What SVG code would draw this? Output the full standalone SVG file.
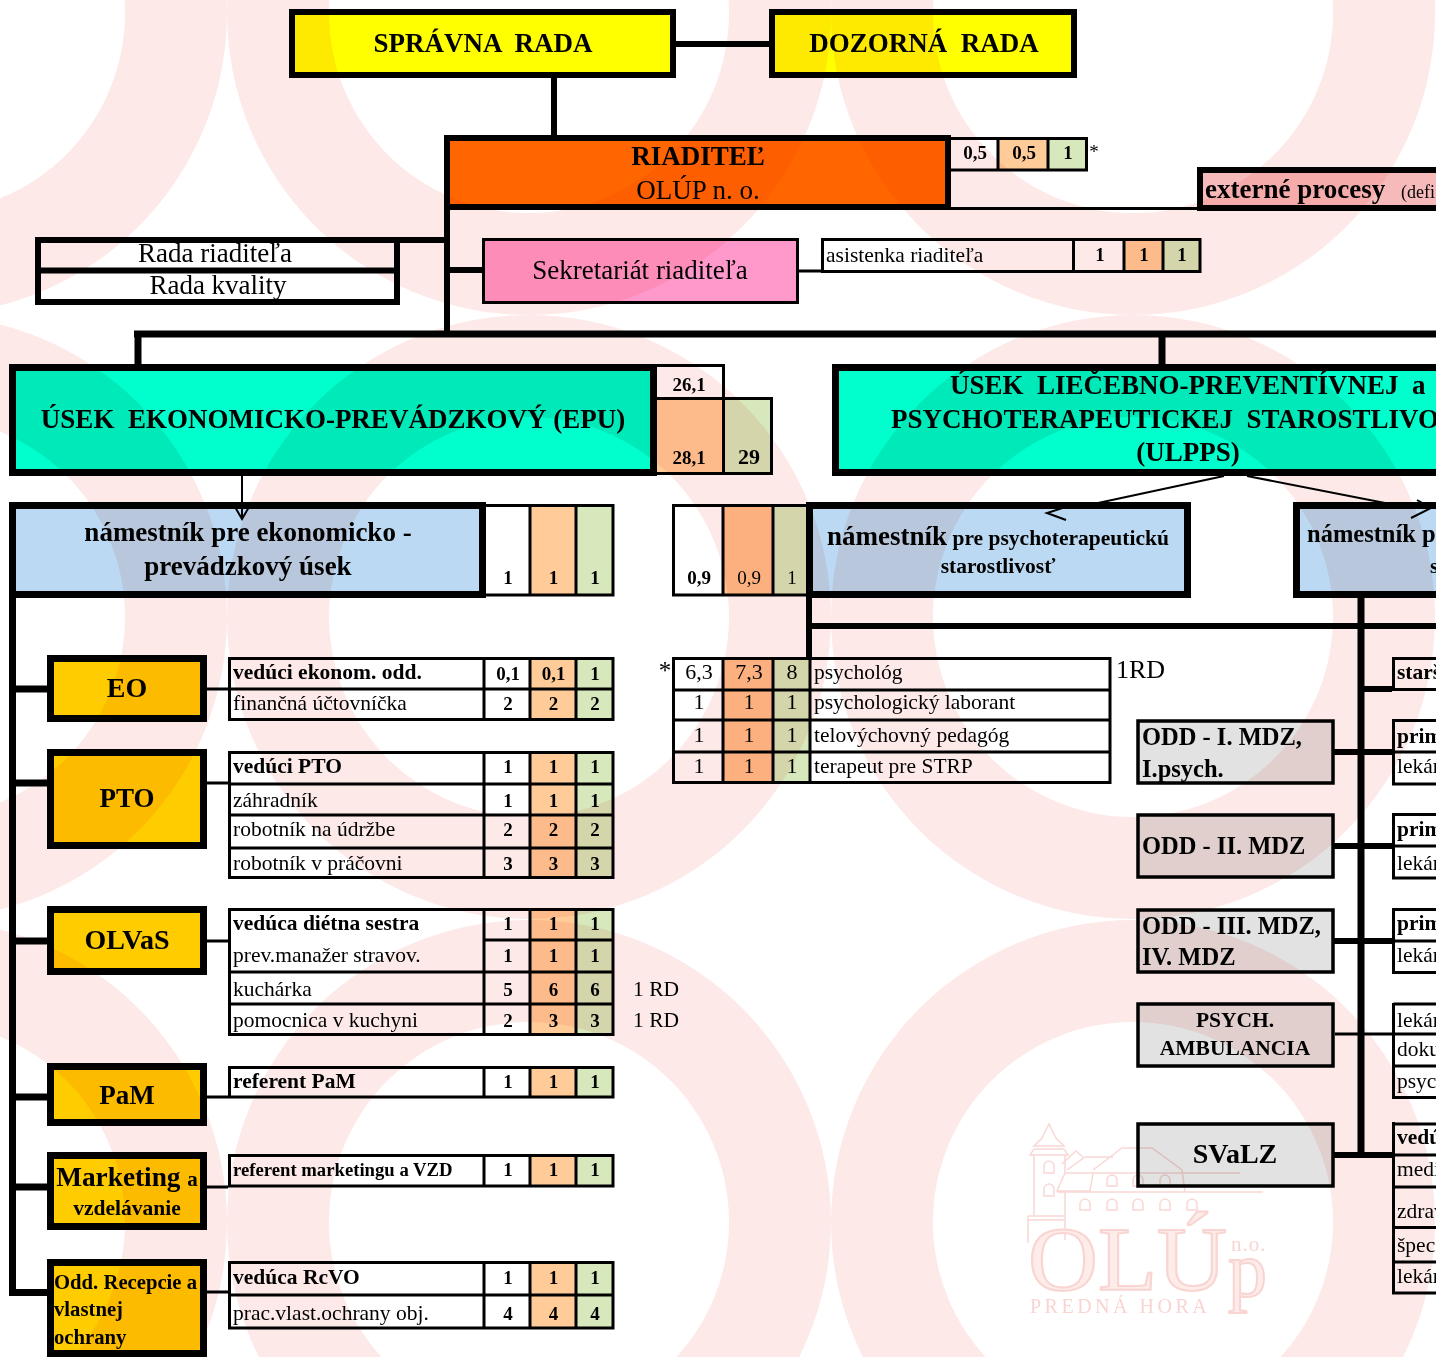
<svg xmlns="http://www.w3.org/2000/svg" width="1436" height="1357" viewBox="0 0 1436 1357">
<style>
text{font-family:"Liberation Serif","Times New Roman",serif;fill:#000;white-space:pre}
.b{font-weight:bold}
.m{text-anchor:middle}
.n{font-size:19px;font-weight:bold;text-anchor:middle}
.r{font-size:22px;text-anchor:middle}
.l{font-size:21.5px}
.lb{font-size:21.5px;font-weight:bold}
.big{font-size:28px;font-weight:bold;text-anchor:middle}
.odd{font-size:24.5px;font-weight:bold}
.h{font-size:27px;font-weight:bold;text-anchor:middle}
.t{fill:none;stroke:#000;stroke-width:3}
.k{fill:none;stroke:#000;stroke-width:6}
.kk{fill:none;stroke:#000;stroke-width:7}
.a{fill:none;stroke:#000;stroke-width:2}
.ws{fill:#fff}
.or{fill:#ffcc99}
.or2{fill:#ffc08c}
.gr{fill:#d6e8bc}
.go{fill:#ffcc00;stroke:#000;stroke-width:7}
.ye{fill:#ffff00;stroke:#000;stroke-width:6}
.tq{fill:#00ffcc;stroke:#000;stroke-width:7}
.bl{fill:#bbd9f2;stroke:#000;stroke-width:7}
.gy{fill:#e2e2e2;stroke:#000;stroke-width:3.5}
</style>
<rect width="1436" height="1357" fill="#fff"/>
<g id="connectors">
<path class="k" d="M676 44H769M554 78V136M447 210V335"/>
<path class="kk" d="M134 334H1436M138 334V365M1162 334V365"/>
<path class="t" d="M951 208.500H1197M799 271H822"/>
<path class="k" d="M400 240H447"/>
<path class="k" d="M447 270H482"/>
<path class="kk" d="M12.500 598V1292.500H50M13 689H50M13 783H50M13 941H50M13 1097H50M13 1187H50"/>
<path class="t" d="M207 689H228M207 783H228M207 941H228M207 1097H228M207 1187H228M207 1292H228"/>
<path class="k" d="M809 598V660M809 626H1436"/>
<path class="kk" d="M1361 598V1155"/>
<path class="k" d="M1361 689H1392M1332 752H1392M1332 846H1392M1332 941H1392M1332 1155H1392"/>
<path class="t" d="M1335 1034H1392"/>
</g>
<g id="spravna-rada"><rect class="ye" x="292" y="12" width="381" height="63"/><text class="h" x="483" y="52">SPRÁVNA  RADA</text></g>
<g id="dozorna-rada"><rect class="ye" x="772" y="12" width="302" height="63"/><text class="h" x="924" y="52">DOZORNÁ  RADA</text></g>
<g id="riaditel"><rect x="447" y="138" width="501" height="69" fill="#ff6600" stroke="#000" stroke-width="6"/>
<text class="h" x="698" y="165">RIADITEĽ</text><text x="698" y="199" class="m" style="font-size:27px">OLÚP n. o.</text></g>
<g id="riaditel-tab"><rect class="ws" x="951" y="138" width="47" height="32"/><rect class="or" x="998" y="138" width="50" height="32"/><rect class="gr" x="1048" y="138" width="39" height="32"/>
<path class="t" d="M951 138.500H1086.500V170H951M998 138V170M1048 138V170"/>
<text class="n" x="975" y="159">0,5</text><text class="n" x="1024" y="159">0,5</text><text class="n" x="1068" y="159">1</text><text x="1094" y="158" style="font-size:19px" class="m">*</text></g>
<g id="externe"><rect x="1200" y="170" width="240" height="38" fill="#f6baba" stroke="#000" stroke-width="6"/><text x="1205" y="198" class="b" style="font-size:27px">externé procesy</text><text x="1401" y="198" style="font-size:18px">(defi</text></g>
<g id="rada"><rect x="38" y="240" width="359" height="62" fill="#fff" stroke="#000" stroke-width="6"/><path class="k" d="M38 270.500H397"/>
<text x="215" y="262" class="m" style="font-size:27px">Rada riaditeľa</text><text x="218" y="294" class="m" style="font-size:27px">Rada kvality</text></g>
<g id="sekretariat"><rect x="483.500" y="239.500" width="314" height="63" fill="#ff99cc" stroke="#000" stroke-width="3"/><text x="640" y="279" class="m" style="font-size:27px">Sekretariát riaditeľa</text></g>
<g id="asistenka"><rect class="ws" x="822" y="239" width="379" height="33"/><rect class="or" x="1124" y="239" width="39" height="33"/><rect class="gr" x="1163" y="239" width="38" height="33"/>
<path class="t" d="M822.500 239.500H1200V271.500H822.500ZM1073.500 239V272M1124 239V272M1163 239V272"/><text class="l" x="826" y="262">asistenka riaditeľa</text>
<text class="n" x="1100" y="261">1</text><text class="n" x="1144" y="261">1</text><text class="n" x="1182" y="261">1</text></g>
<g id="epu"><rect class="tq" x="12.500" y="367.500" width="641" height="105"/><text class="h" x="333" y="428">ÚSEK  EKONOMICKO-PREVÁDZKOVÝ (EPU)</text></g>
<g id="epu-tab"><rect class="ws" x="657" y="366" width="67" height="32"/><rect class="or" x="657" y="398" width="67" height="75"/><rect class="gr" x="724" y="398" width="48" height="75"/>
<path class="t" d="M656 365.500H723.500V473M656 398.500H771.500V473.500H656"/><text class="n" x="689" y="391">26,1</text><text class="n" x="689" y="464">28,1</text><text class="n" x="749" y="464" style="font-size:22px">29</text></g>
<g id="namestnik-epu"><rect class="bl" x="12.500" y="505.500" width="470" height="89"/><text class="h" x="248" y="541">námestník pre ekonomicko -</text><text class="h" x="248" y="575">prevádzkový úsek</text></g>
<g id="namestnik-epu-tab"><rect class="or" x="530" y="505" width="46" height="90"/><rect class="gr" x="576" y="505" width="38" height="90"/><path class="t" d="M486 505.500H613V595H486M530 505V595M576 505V595"/>
<text class="n" x="508" y="584">1</text><text class="n" x="553.500" y="584">1</text><text class="n" x="595" y="584">1</text></g>
<g id="namestnik-psych-tab"><rect class="ws" x="673" y="505" width="50" height="90"/><rect class="or2" x="723" y="505" width="50" height="90"/><rect class="gr" x="773" y="505" width="35" height="90"/><path class="t" d="M808 505.500H673.500V595H808M723 505V595M773 505V595"/>
<text class="n" x="699" y="584">0,9</text><text class="m" x="749" y="584" style="font-size:19px">0,9</text><text class="m" x="792" y="584" style="font-size:19px">1</text></g>
<g id="namestnik-psych"><rect class="bl" x="809.500" y="505.500" width="378" height="89"/><text x="998" y="545" class="m b" style="font-size:21.500px"><tspan style="font-size:27px">námestník</tspan> pre psychoterapeutickú</text><text x="998" y="573" class="m b" style="font-size:21.500px">starostlivosť</text></g>
<g id="ulpps"><rect class="tq" x="835.500" y="367.500" width="610" height="105"/><text class="h" style="text-anchor:start" x="950" y="394">ÚSEK  LIEČEBNO-PREVENTÍVNEJ  a</text><text class="h" style="text-anchor:start" x="891" y="428">PSYCHOTERAPEUTICKEJ  STAROSTLIVO</text><text class="h" x="1188" y="461">(ULPPS)</text></g>
<g id="namestnik-ped"><rect class="bl" x="1296.500" y="505.500" width="150" height="89"/><text x="1307" y="542" class="b" style="font-size:24.500px">námestník p</text><text x="1430" y="573" class="b" style="font-size:21.500px">s</text></g>
<g id="arrows">
<path class="a" d="M242 476V518M235 507L242 519L249 507"/>
<path class="a" d="M1224 476L1098 503M1078 503L1047 513L1066 520"/>
<path class="a" d="M1247 476L1385 503M1417 500L1431 508L1411 518"/>
</g>
<g id="eo"><rect class="go" x="50.500" y="658.500" width="153" height="60"/><text class="big" x="127" y="697">EO</text></g>
<g id="eo-tab"><rect class="ws" x="229" y="658" width="385" height="62"/><rect class="or" x="530" y="658" width="46" height="62"/><rect class="gr" x="576" y="658" width="37" height="62"/>
<path class="t" d="M229.500 658.500H613V719.500H229.500ZM229 689H613M484 658V720M530 658V720M576 658V720"/>
<text class="lb" x="233" y="679">vedúci ekonom. odd.</text><text class="l" x="233" y="710">finančná účtovníčka</text>
<text class="n" x="508" y="680">0,1</text><text class="n" x="553.500" y="680">0,1</text><text class="n" x="595" y="680">1</text><text class="n" x="508" y="710">2</text><text class="n" x="553.500" y="710">2</text><text class="n" x="595" y="710">2</text></g>
<g id="pto"><rect class="go" x="50.500" y="752.500" width="153" height="93"/><text class="big" x="127" y="807" style="font-size:27px">PTO</text></g>
<g id="pto-tab"><rect class="ws" x="229" y="752" width="385" height="126"/><rect class="or" x="530" y="752" width="46" height="126"/><rect class="gr" x="576" y="752" width="37" height="126"/>
<path class="t" d="M229.500 752.500H613V877.500H229.500ZM229 784H613M229 815H613M229 848H613M484 752V878M530 752V878M576 752V878"/>
<text class="lb" x="233" y="773">vedúci PTO</text><text class="l" x="233" y="807">záhradník</text><text class="l" x="233" y="836">robotník na údržbe</text><text class="l" x="233" y="870">robotník v práčovni</text>
<text class="n" x="508" y="773">1</text><text class="n" x="553.500" y="773">1</text><text class="n" x="595" y="773">1</text><text class="n" x="508" y="807">1</text><text class="n" x="553.500" y="807">1</text><text class="n" x="595" y="807">1</text><text class="n" x="508" y="836">2</text><text class="n" x="553.500" y="836">2</text><text class="n" x="595" y="836">2</text><text class="n" x="508" y="870">3</text><text class="n" x="553.500" y="870">3</text><text class="n" x="595" y="870">3</text></g>
<g id="olvas"><rect class="go" x="50.500" y="909.500" width="153" height="62"/><text class="big" x="127" y="949">OLVaS</text></g>
<g id="olvas-tab"><rect class="ws" x="229" y="909" width="385" height="126"/><rect class="or" x="530" y="909" width="46" height="126"/><rect class="gr" x="576" y="909" width="37" height="126"/>
<path class="t" d="M229.500 909.500H613V1034.500H229.500ZM484 940H613M229 972H613M229 1004H613M484 909V1035M530 909V1035M576 909V1035"/>
<text class="lb" x="233" y="930">vedúca diétna sestra</text><text class="l" x="233" y="962">prev.manažer stravov.</text><text class="l" x="233" y="996">kuchárka</text><text class="l" x="233" y="1027">pomocnica v kuchyni</text>
<text class="n" x="508" y="930">1</text><text class="n" x="553.500" y="930">1</text><text class="n" x="595" y="930">1</text><text class="n" x="508" y="962">1</text><text class="n" x="553.500" y="962">1</text><text class="n" x="595" y="962">1</text><text class="n" x="508" y="996">5</text><text class="n" x="553.500" y="996">6</text><text class="n" x="595" y="996">6</text><text class="n" x="508" y="1027">2</text><text class="n" x="553.500" y="1027">3</text><text class="n" x="595" y="1027">3</text>
<text class="l" x="633" y="996">1 RD</text><text class="l" x="633" y="1027">1 RD</text></g>
<g id="pam"><rect class="go" x="50.500" y="1066.500" width="153" height="56"/><text class="big" x="127" y="1104" style="font-size:27px">PaM</text></g>
<g id="pam-tab"><rect class="ws" x="229" y="1067" width="385" height="30"/><rect class="or" x="530" y="1067" width="46" height="30"/><rect class="gr" x="576" y="1067" width="37" height="30"/>
<path class="t" d="M229.500 1067.500H613V1097H229.500ZM484 1067V1098M530 1067V1098M576 1067V1098"/><text class="lb" x="233" y="1088">referent PaM</text>
<text class="n" x="508" y="1088">1</text><text class="n" x="553.500" y="1088">1</text><text class="n" x="595" y="1088">1</text></g>
<g id="marketing"><rect class="go" x="50.500" y="1155.500" width="153" height="71"/><text x="127" y="1186" class="m b" style="font-size:27.300px">Marketing <tspan style="font-size:21px">a</tspan></text><text x="127" y="1215" class="m b" style="font-size:21.500px">vzdelávanie</text></g>
<g id="marketing-tab"><rect class="ws" x="229" y="1155" width="385" height="31"/><rect class="or" x="530" y="1155" width="46" height="31"/><rect class="gr" x="576" y="1155" width="37" height="31"/>
<path class="t" d="M229.500 1155.500H613V1186H229.500ZM484 1155V1187M530 1155V1187M576 1155V1187"/><text class="b" x="233" y="1176" style="font-size:18.700px">referent marketingu a VZD</text>
<text class="n" x="508" y="1176">1</text><text class="n" x="553.500" y="1176">1</text><text class="n" x="595" y="1176">1</text></g>
<g id="recepcia"><rect class="go" x="50.500" y="1262.500" width="153" height="91"/><text class="b" x="54" y="1289" style="font-size:20.700px">Odd. Recepcie a</text><text class="b" x="54" y="1316" style="font-size:20.700px">vlastnej</text><text class="b" x="54" y="1344" style="font-size:20.700px">ochrany</text></g>
<g id="recepcia-tab"><rect class="ws" x="229" y="1262" width="385" height="66"/><rect class="or" x="530" y="1262" width="46" height="66"/><rect class="gr" x="576" y="1262" width="37" height="66"/>
<path class="t" d="M229.500 1262.500H613V1328H229.500ZM229 1295H613M484 1262V1329M530 1262V1329M576 1262V1329"/><text class="lb" x="233" y="1284">vedúca RcVO</text><text class="l" x="233" y="1320">prac.vlast.ochrany obj.</text>
<text class="n" x="508" y="1284">1</text><text class="n" x="553.500" y="1284">1</text><text class="n" x="595" y="1284">1</text><text class="n" x="508" y="1320">4</text><text class="n" x="553.500" y="1320">4</text><text class="n" x="595" y="1320">4</text></g>
<g id="psych-tab"><rect class="ws" x="673" y="658" width="437" height="124"/><rect class="or2" x="723" y="658" width="50" height="124"/><rect class="gr" x="773" y="658" width="37" height="124"/>
<path class="t" d="M673.500 658.500H1110V782.500H673.500ZM673 690H1110M673 720H1110M673 752H1110M723 658V783M773 658V783M810 658V783"/>
<text x="665" y="679" class="m" style="font-size:25px">*</text>
<text class="r" x="699" y="679">6,3</text><text class="r" x="749" y="679">7,3</text><text class="r" x="792" y="679">8</text><text class="l" x="814" y="679">psychológ</text><text x="1116" y="678" style="font-size:26px">1RD</text>
<text class="r" x="699" y="709">1</text><text class="r" x="749" y="709">1</text><text class="r" x="792" y="709">1</text><text class="l" x="814" y="709">psychologický laborant</text>
<text class="r" x="699" y="742">1</text><text class="r" x="749" y="742">1</text><text class="r" x="792" y="742">1</text><text class="l" x="814" y="742">telovýchovný pedagóg</text>
<text class="r" x="699" y="773">1</text><text class="r" x="749" y="773">1</text><text class="r" x="792" y="773">1</text><text class="l" x="814" y="773">terapeut pre STRP</text></g>
<g id="odd1"><rect class="gy" x="1138" y="721" width="195" height="62"/><text class="odd" x="1142" y="745">ODD - I. MDZ,</text><text class="odd" x="1142" y="777">I.psych.</text></g>
<g id="odd2"><rect class="gy" x="1138" y="815" width="195" height="62"/><text class="odd" x="1142" y="854">ODD - II. MDZ</text></g>
<g id="odd3"><rect class="gy" x="1138" y="910" width="195" height="62"/><text class="odd" x="1142" y="934">ODD - III. MDZ,</text><text class="odd" x="1142" y="965">IV. MDZ</text></g>
<g id="psych-amb"><rect class="gy" x="1138" y="1004" width="195" height="62"/><text class="b m" x="1235" y="1027" style="font-size:21.500px">PSYCH.</text><text class="b m" x="1235" y="1055" style="font-size:21.500px">AMBULANCIA</text></g>
<g id="svalz"><rect class="gy" x="1138" y="1124" width="195" height="62"/><text class="big" x="1235" y="1163">SVaLZ</text></g>
<g id="right-tabs"><path class="t" d="M1393.500 658.500H1436M1392 689.500H1436M1393.500 657V691M1393.500 720.500H1436M1392 752H1436M1392 784H1436M1393.500 719V785M1393.500 814.500H1436M1392 846H1436M1392 878H1436M1393.500 813V879M1393.500 909.500H1436M1392 941H1436M1392 972.500H1436M1393.500 908V974M1393.500 1004H1436M1392 1034H1436M1392 1066H1436M1392 1097.500H1436M1393.500 1003V1099M1393.500 1124H1436M1392 1155H1436M1392 1187H1436M1392 1227.500H1436M1392 1262H1436M1392 1293H1436M1393.500 1122V1294"/>
<text class="lb" x="1397" y="679">starš</text><text class="lb" x="1397" y="743">prim</text><text class="l" x="1397" y="773">lekár</text><text class="lb" x="1397" y="836">prim</text><text class="l" x="1397" y="870">lekár</text><text class="lb" x="1397" y="930">prim</text><text class="l" x="1397" y="962">lekár</text><text class="l" x="1397" y="1027">lekár</text><text class="l" x="1397" y="1056">doku</text><text class="l" x="1397" y="1088">psyc</text><text class="lb" x="1397" y="1144">vedú</text><text class="l" x="1397" y="1176">medi</text><text class="l" x="1397" y="1218">zdrav</text><text class="l" x="1397" y="1252">špec</text><text class="l" x="1397" y="1283">lekár</text></g>
<g id="watermark" style="mix-blend-mode:multiply">
<path fill="#fdeae8" d="M-377 13a302 302 0 1 1 604 0a302 302 0 1 1-604 0ZM-275 13a200 200 0 1 0 400 0a200 200 0 1 0-400 0ZM227 13a302 302 0 1 1 604 0a302 302 0 1 1-604 0ZM329 13a200 200 0 1 0 400 0a200 200 0 1 0-400 0ZM831 13a302 302 0 1 1 604 0a302 302 0 1 1-604 0ZM933 13a200 200 0 1 0 400 0a200 200 0 1 0-400 0ZM-377 617a302 302 0 1 1 604 0a302 302 0 1 1-604 0ZM-275 617a200 200 0 1 0 400 0a200 200 0 1 0-400 0ZM227 617a302 302 0 1 1 604 0a302 302 0 1 1-604 0ZM329 617a200 200 0 1 0 400 0a200 200 0 1 0-400 0ZM831 617a302 302 0 1 1 604 0a302 302 0 1 1-604 0ZM933 617a200 200 0 1 0 400 0a200 200 0 1 0-400 0ZM-377 1222a302 302 0 1 1 604 0a302 302 0 1 1-604 0ZM-275 1222a200 200 0 1 0 400 0a200 200 0 1 0-400 0ZM227 1222a302 302 0 1 1 604 0a302 302 0 1 1-604 0ZM329 1222a200 200 0 1 0 400 0a200 200 0 1 0-400 0ZM831 1222a302 302 0 1 1 604 0a302 302 0 1 1-604 0ZM933 1222a200 200 0 1 0 400 0a200 200 0 1 0-400 0Z"/>
<g fill="none" stroke="#f9d8d5" stroke-width="1.500"><path d="M1049 1124L1042 1138L1034 1146H1064L1056 1138ZM1034 1149H1064M1034 1149L1030 1155H1068L1064 1149M1034 1155V1216M1065 1155V1173M1065 1191V1216M1028 1216H1065M1028 1220H1065M1028 1216V1243M1065 1216V1240M1065 1173H1093L1090 1191H1057ZM1093 1173H1240M1057 1192H1263M1067 1170L1085 1157H1113M1062 1164L1076 1151L1083 1157M1093 1170L1122 1148H1152L1182 1170L1185 1192"/>
<path d="M1044 1173v-7a5 5 0 0 1 10 0v7ZM1044 1196v-7a5 5 0 0 1 10 0v7ZM1107 1186v-6a5 5 0 0 1 10 0v6ZM1133 1186v-6a5 5 0 0 1 10 0v6ZM1160 1186v-6a5 5 0 0 1 10 0v6ZM1080 1210v-6a5 5 0 0 1 10 0v6ZM1107 1210v-6a5 5 0 0 1 10 0v6ZM1133 1210v-6a5 5 0 0 1 10 0v6ZM1160 1210v-6a5 5 0 0 1 10 0v6ZM1187 1210v-6a5 5 0 0 1 10 0v6Z"/></g>
<text x="1028" y="1290" textLength="199" lengthAdjust="spacingAndGlyphs" style="font-size:90px;fill:#fdecea;stroke:#f9d5d2;stroke-width:2">OLÚ</text>
<text x="1228" y="1296" style="font-size:78px;fill:#fdecea;stroke:#f9d5d2;stroke-width:2">p</text>
<text x="1231" y="1251" style="font-size:21px;fill:#f9d5d2;letter-spacing:1px">n.o.</text>
<text x="1030" y="1313" style="font-size:20px;fill:#f9d5d2;letter-spacing:3.500px">PREDNÁ HORA</text>
</g>
</svg>
